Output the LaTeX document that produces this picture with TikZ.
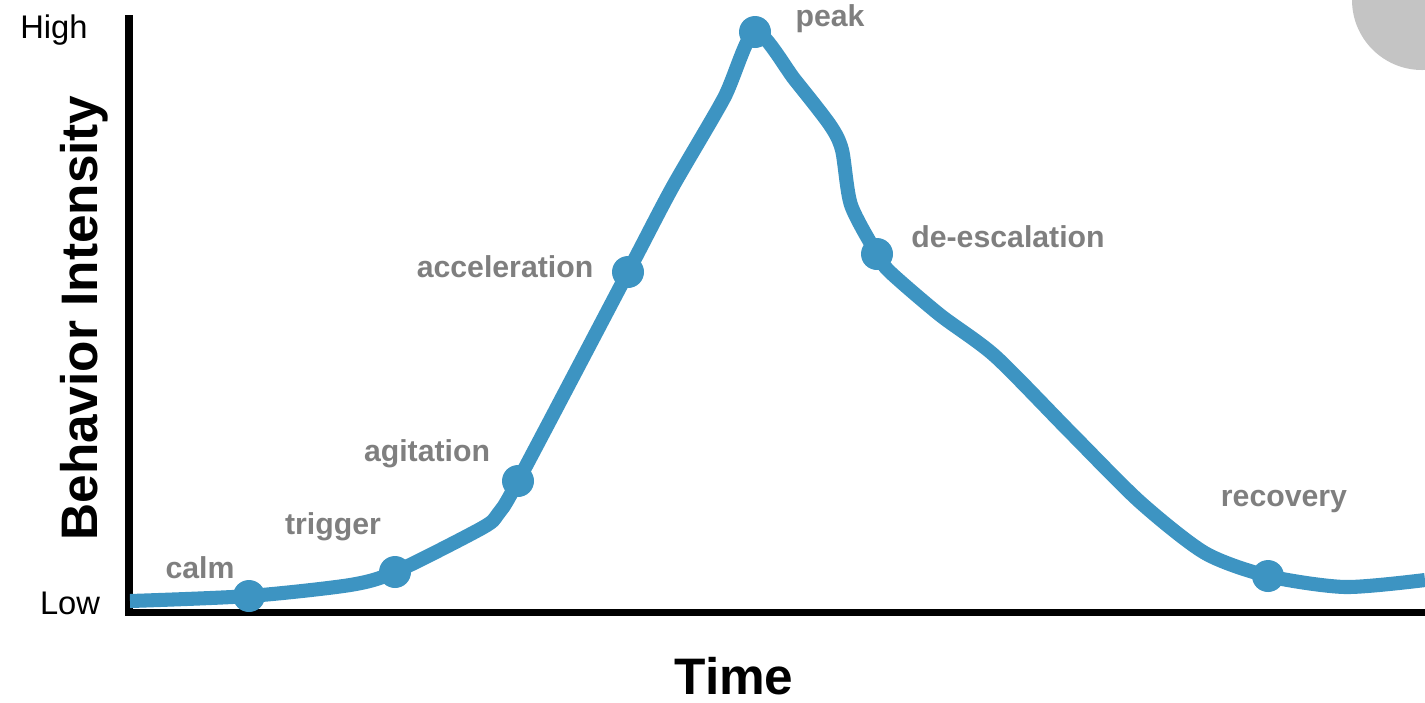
\documentclass[tikz,border=0pt]{standalone}
\usepackage{fontspec}
\setmainfont{Liberation Sans}
\definecolor{curveblue}{HTML}{3D94C2}
\definecolor{lblgrey}{HTML}{7F7F7F}
\definecolor{blobgrey}{HTML}{C4C4C4}
\tikzset{
  stage/.style={circle,fill=curveblue,inner sep=0pt,minimum size=32\unitpx},
  stagelbl/.style={text=lblgrey,font=\fontsize{8.6}{10}\selectfont\bfseries,inner sep=0pt},
  axislbl/.style={font=\fontsize{14.6}{17}\selectfont\bfseries,inner sep=0pt},
  levellbl/.style={font=\fontsize{9.3}{11}\selectfont,inner sep=0pt}
}
\newlength{\unitpx}
\setlength{\unitpx}{0.01cm}
\begin{document}
\begin{tikzpicture}[x=0.01cm,y=-0.01cm,semithick]

\useasboundingbox (0,0) rectangle (1425,702);

% grey blob in the corner
\begin{scope}
\clip (0,0) rectangle (1425,702);
\fill[blobgrey] (1422,0) circle (70);
\end{scope}

% axes
\coordinate (top) at (129,19);
\coordinate (origin) at (129,612);
\coordinate (right) at (1425,612);
\path [draw,line width=2pt,line cap=rect]
    (top) -- (origin) -- (right)
;

\node[levellbl] (high) at (54,30) {High};
\node[levellbl] (low) at (70,603) {Low};
\node[axislbl,rotate=90] (ylbl) at (84,318) {Behavior Intensity};
\node[axislbl] (xlbl) at (734,676) {Time};

% stages on the curve
\node[stage] (calm) at (249,596) {};
\node[stage] (trigger) at (395,572) {};
\node[stage] (agitation) at (518,481) {};
\node[stage] (accel) at (628,272) {};
\node[stage] (peak) at (755,32) {};
\node[stage] (deesc) at (877,254) {};
\node[stage] (recovery) at (1268,576) {};

\coordinate (start) at (130,601);
\coordinate (finish) at (1425,580);

\draw[curveblue,line width=4pt,line join=round]
    plot[smooth,tension=0.45] coordinates {
      (start) (calm.center) (350,585) (trigger.center) (482,528) (498,514)
      (agitation.center) (accel.center) (672,188) (724,98) (peak.center)
      (795,80) (830,125) (842,150) (851,205) (deesc.center) (890,272)
      (940,315) (995,356) (1070,432) (1140,502) (1205,553)
      (recovery.center) (1345,587) (finish)
    }
;

\node[stagelbl] (calm-lbl) at (200,568) {calm};
\node[stagelbl] (trigger-lbl) at (333,527) {trigger};
\node[stagelbl] (agitation-lbl) at (427,454) {agitation};
\node[stagelbl] (accel-lbl) at (505,267) {acceleration};
\node[stagelbl] (peak-lbl) at (830,19) {peak};
\node[stagelbl] (deesc-lbl) at (1008,237) {de-escalation};
\node[stagelbl] (recovery-lbl) at (1284,501) {recovery};

\end{tikzpicture}
\end{document}
